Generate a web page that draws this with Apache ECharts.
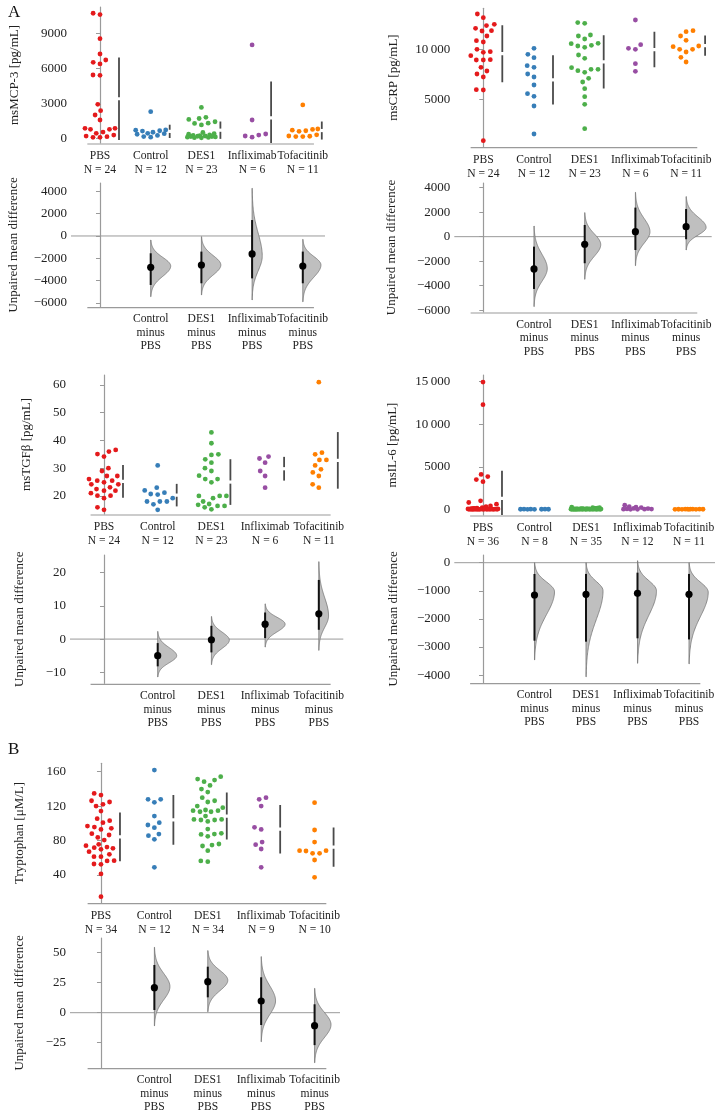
<!DOCTYPE html>
<html><head><meta charset="utf-8">
<script src="https://cdn.jsdelivr.net/npm/echarts@6/dist/echarts.min.js"></script>
<style>html,body{margin:0;padding:0;background:#fff}#c{width:718px;height:1113px}</style>
</head><body><div id="c"></div>
<script>
// ---------------- DATA ----------------
const groups = ['PBS', 'Control', 'DES1', 'Infliximab', 'Tofacitinib'];
const groupColors = ['#e41a1c', '#377eb8', '#4daf4a', '#984ea3', '#ff7f00'];

// msMCP-3 [pg/mL]
const mcp3_PBS = [10714,10600,8540,7226,6711,6514,6370,5400,5426,2914,2366,1997,1569,771,857,771,857,540,429,283,197,140,86,86];
const mcp3_Control = [2280,720,700,650,620,520,430,400,350,250,150,100];
const mcp3_DES1 = [2650,1800,1700,1620,1420,1300,1280,1150,500,400,350,300,250,220,200,180,150,150,120,100,80,60,50];
const mcp3_Infliximab = [7997,1569,370,200,100,283];
const mcp3_Tofacitinib = [2860,800,760,700,650,600,300,200,180,150,150];
const mcp3Ticks = [0, 3000, 6000, 9000];
const mcp3DiffTicks = [-6000, -4000, -2000, 0, 2000, 4000];
const mcp3DiffMean = [-2807, -2600, -1610, -2690];
const mcp3CiLow = [-4390, -4240, -3800, -4240];
const mcp3CiHigh = [-1550, -1400, 1430, -1400];
const mcp3BootTop = [-360, -60, 4280, -300];
const mcp3BootBottom = [-5440, -5290, -5740, -5900];
const mcp3BootMode = [-2700, -2600, -1800, -2600];

// msCRP [pg/mL]
const crp_PBS = [13530,13160,12100,12500,12370,11830,11860,11330,10860,10730,10000,9700,9760,9360,8930,8960,8930,8200,7830,7530,7230,5930,5960,860];
const crp_Control = [10100,9500,9160,8200,8360,7530,7230,6430,5560,5300,4330,1530];
const crp_DES1 = [12670,12600,11430,11030,11330,10400,10560,10200,10330,9430,9100,8160,8000,8000,7860,7100,6730,6060,5260,4500,2060,10600,7700];
const crp_Infliximab = [12930,10100,10460,10000,8560,7800];
const crp_Tofacitinib = [11760,11860,11330,10900,10260,10330,10000,10000,9730,9200,8730];
const crpTicks = [5000, 10000];
const crpDiffTicks = [-6000, -4000, -2000, 0, 2000, 4000];
const crpDiffMean = [-2637, -620, 408, 816];
const crpCiLow = [-4270, -2170, -1090, -210];
const crpCiHigh = [-816, 955, 2370, 2260];
const crpBootTop = [870, 1960, 3620, 3270];
const crpBootBottom = [-5710, -3480, -2370, -1090];
const crpBootMode = [-2600, -650, 400, 750];

// msTGFβ [pg/mL]
const tgf_PBS = [36.6,36.0,35.1,34.2,30.0,29.0,27.2,27.2,26.1,25.5,25.5,24.9,24.2,24.2,23.1,22.5,21.9,21.9,21.0,20.1,20.1,19.2,15.9,15.0];
const tgf_Control = [31.0,21.2,22.0,23.0,20.7,19.2,18.0,18.0,18.0,15.0,20.5,17.0];
const tgf_DES1 = [42.9,39.0,34.8,35.0,33.2,32.0,30.0,29.0,27.3,26.1,26.1,24.9,20.0,20.0,20.0,19.2,17.1,16.4,18.0,16.8,16.4,15.2,15.9];
const tgf_Infliximab = [32.0,34.2,33.5,27.2,29.0,23.0];
const tgf_Tofacitinib = [61.0,35.6,35.0,33.0,33.0,31.0,28.5,29.6,27.2,24.2,23.0];
const tgfTicks = [20, 30, 40, 50, 60];
const tgfDiffTicks = [-10, 0, 10, 20];
const tgfDiffMean = [-5.0, -0.2, 4.5, 7.6];
const tgfCiLow = [-8.2, -4, 0.3, 2.8];
const tgfCiHigh = [-1.2, 4, 8, 17.8];
const tgfBootTop = [2.3, 6.8, 10.6, 23.3];
const tgfBootBottom = [-11.4, -7.7, -2.4, -3.4];
const tgfBootMode = [-5, -0.3, 4.5, 7];

// msIL-6 [pg/mL]
const il6_PBS = [14960,12300,4100,3850,3500,3250,1000,800,600,400,300,200,150,0,0,0,0,0,0,0,0,0,0,0,0,10,10,20,20,30,40,50,60,80,100,120];
const il6_Control = [5,10,0,15,8,3,12,6];
const il6_DES1 = [250,200,180,150,120,100,90,80,70,60,50,50,40,40,30,30,25,20,20,15,15,10,10,10,5,5,5,0,0,0,0,0,0,0,0];
const il6_Infliximab = [480,300,250,200,100,80,50,30,20,10,0,0];
const il6_Tofacitinib = [30,20,15,10,10,5,5,0,0,0,0];
const il6Ticks = [0, 5000, 10000, 15000];
const il6DiffTicks = [-4000, -3000, -2000, -1000, 0];
const il6DiffMean = [-1150, -1125, -1090, -1125];
const il6CiLow = [-2775, -2810, -2690, -2730];
const il6CiHigh = [-400, -400, -355, -400];
const il6BootTop = [0, 0, 70, 0];
const il6BootBottom = [-3460, -4060, -3580, -3600];
const il6BootMode = [-1030, -1000, -1000, -1050];

// Tryptophan [μM/L]
const trp_PBS = [134.8,132.9,126.3,124.8,122.1,120.1,114.3,105.4,103.1,100.8,96.9,95.7,94.2,93.0,88.0,86.5,83.7,80.6,74.1,75.6,72.5,69.8,71.7,71.0,67.1,61.3,64.0,61.3,56.6,56.3,52.4,52.8,41.2,14.8];
const trp_Control = [161.9,127.9,127.9,124.4,108.5,100.8,98.1,95.0,87.6,85.7,81.4,48.9];
const trp_DES1 = [154.2,151.5,150.3,148.4,144.1,139.9,136.4,129.8,124.8,126.3,120.1,118.2,115.5,113.5,113.5,114.7,114.7,108.5,104.6,103.9,103.9,104.6,102.3,93.4,87.2,88.4,87.6,84.9,74.8,76.0,73.7,68.3,56.3,55.5];
const trp_Infliximab = [127.9,129.8,120.1,95.4,93.0,78.3,75.2,70.2,48.9];
const trp_Tofacitinib = [124.0,92.3,78.3,65.2,68.3,67.9,65.2,68.3,57.4,37.3];
const trpTicks = [40, 80, 120, 160];
const trpDiffTicks = [-25, 0, 25, 50];
const trpDiffMean = [20.8, 25.8, 9.75, -10.8];
const trpCiLow = [2.25, 12.8, -10.25, -27];
const trpCiHigh = [39.75, 38.3, 29.5, 7];
const trpBootTop = [54.5, 51.7, 46.7, 20.3];
const trpBootBottom = [-11, 0.8, -24.2, -41.7];
const trpBootMode = [21.7, 27, 10, -10];

const panels = [
  {title: 'msMCP-3 [pg/mL]', values: [mcp3_PBS, mcp3_Control, mcp3_DES1, mcp3_Infliximab, mcp3_Tofacitinib],
   ticks: mcp3Ticks, dTicks: mcp3DiffTicks, dMean: mcp3DiffMean, ciLow: mcp3CiLow, ciHigh: mcp3CiHigh, bTop: mcp3BootTop, bBot: mcp3BootBottom, bMode: mcp3BootMode},
  {title: 'msCRP [pg/mL]', values: [crp_PBS, crp_Control, crp_DES1, crp_Infliximab, crp_Tofacitinib],
   ticks: crpTicks, dTicks: crpDiffTicks, dMean: crpDiffMean, ciLow: crpCiLow, ciHigh: crpCiHigh, bTop: crpBootTop, bBot: crpBootBottom, bMode: crpBootMode},
  {title: 'msTGFβ [pg/mL]', values: [tgf_PBS, tgf_Control, tgf_DES1, tgf_Infliximab, tgf_Tofacitinib],
   ticks: tgfTicks, dTicks: tgfDiffTicks, dMean: tgfDiffMean, ciLow: tgfCiLow, ciHigh: tgfCiHigh, bTop: tgfBootTop, bBot: tgfBootBottom, bMode: tgfBootMode},
  {title: 'msIL-6 [pg/mL]', values: [il6_PBS, il6_Control, il6_DES1, il6_Infliximab, il6_Tofacitinib],
   ticks: il6Ticks, dTicks: il6DiffTicks, dMean: il6DiffMean, ciLow: il6CiLow, ciHigh: il6CiHigh, bTop: il6BootTop, bBot: il6BootBottom, bMode: il6BootMode},
  {title: 'Tryptophan [μM/L]', values: [trp_PBS, trp_Control, trp_DES1, trp_Infliximab, trp_Tofacitinib],
   ticks: trpTicks, dTicks: trpDiffTicks, dMean: trpDiffMean, ciLow: trpCiLow, ciHigh: trpCiHigh, bTop: trpBootTop, bBot: trpBootBottom, bMode: trpBootMode}
];
const diffTitle = 'Unpaired mean difference';
const panelLetters = ['A', 'B'];

// ---------------- LAYOUT / STYLE ----------------
const layout = [
  {x0: 71,    x1: 325,   t: [7, 143],       b: [183, 306.7],  xr: [-0.572, 4.438], yr: [-400, 11250], dyr: [-6340, 4750], ng: [50, 51]},
  {x0: 454.3, x1: 711.7, t: [8.3, 146.7],   b: [183, 312],    xr: [-0.572, 4.505], yr: [260, 14100],  dyr: [-6150, 4380], ng: [54, 56]},
  {x0: 70,    x1: 343.3, t: [375, 514],     b: [555, 683.3],  xr: [-0.633, 4.456], yr: [13.5, 63.6],  dyr: [-13.3, 25.3], ng: [37, 44]},
  {x0: 454.3, x1: 715,   t: [375, 515],     b: [555, 682.7],  xr: [-0.557, 4.505], yr: [-670, 15790], dyr: [-4270, 274],  ng: [55, 54]},
  {x0: 70,    x1: 340,   t: [763.3, 902.7], b: [938, 1067.7], xr: [-0.58, 4.476],  yr: [7.8, 169.8],  dyr: [-45.8, 62.2], ng: [44, 44]}
];
const FONT = "'Liberation Serif', 'DejaVu Serif', serif";
const AXIS_GRAY = '#9a9a9a';
const TEXT = '#222';
const SPINE_X = [-0.25, 4.22];

function fmtTick(v) {
  const a = Math.abs(v);
  let s = String(a);
  if (a >= 10000) s = s.replace(/\B(?=(\d{3})+(?!\d))/g, '\u2009');
  return (v < 0 ? '\u2212' : '') + s;
}
function mean(a) { return a.reduce((s, v) => s + v, 0) / a.length; }
function sd(a) { const m = mean(a); return Math.sqrt(a.reduce((s, v) => s + (v - m) * (v - m), 0) / (a.length - 1)); }

const chart = echarts.init(document.getElementById('c'), null, {renderer: 'canvas', width: 718, height: 1113});

const grids = [], xAxes = [], yAxes = [];
layout.forEach((L, p) => {
  const P = panels[p];
  [0, 1].forEach(k => {
    const tb = k === 0 ? L.t : L.b;
    grids.push({left: L.x0, top: tb[0], width: L.x1 - L.x0, height: tb[1] - tb[0], outerBoundsMode: 'none', containLabel: false});
    const gi = grids.length - 1;
    xAxes.push({
      gridIndex: gi, type: 'value', min: L.xr[0], max: L.xr[1],
      axisLine: {show: false}, axisTick: {show: false}, splitLine: {show: false},
      axisLabel: {
        show: true, customValues: k === 0 ? [0, 1, 2, 3, 4] : [1, 2, 3, 4], margin: 6,
        hideOverlap: false, showMinLabel: true, showMaxLabel: true,
        fontFamily: FONT, fontSize: 11.6, color: TEXT, lineHeight: k === 0 ? 14 : 13.5, align: 'center',
        formatter: k === 0
          ? (v) => groups[Math.round(v)] + '\nN = ' + P.values[Math.round(v)].length
          : (v) => groups[Math.round(v)] + '\nminus\n' + groups[0]
      }
    });
    yAxes.push({
      gridIndex: gi, type: 'value', min: k === 0 ? L.yr[0] : L.dyr[0], max: k === 0 ? L.yr[1] : L.dyr[1],
      name: k === 0 ? P.title : diffTitle, nameLocation: 'middle', nameGap: L.ng[k], nameRotate: 90,
      nameTextStyle: {fontFamily: FONT, fontSize: 13, color: TEXT},
      axisLine: {show: true, lineStyle: {color: AXIS_GRAY, width: 1.2}},
      axisTick: {show: true, length: 4, customValues: k === 0 ? P.ticks : P.dTicks, lineStyle: {color: AXIS_GRAY, width: 1}},
      axisLabel: {show: true, customValues: k === 0 ? P.ticks : P.dTicks, margin: 4, hideOverlap: false, showMinLabel: true, showMaxLabel: true,
        fontFamily: FONT, fontSize: 13, color: TEXT, formatter: fmtTick},
      splitLine: {show: false}
    });
  });
});

const graphic = [
  {type: 'text', left: 8, top: 4, style: {text: panelLetters[0], font: '17px ' + FONT, fill: '#111'}},
  {type: 'text', left: 8, top: 741, style: {text: panelLetters[1], font: '17px ' + FONT, fill: '#111'}}
];

chart.setOption({animation: false, backgroundColor: '#fff', grid: grids, xAxis: xAxes, yAxis: yAxes, graphic: graphic, series: []});

// ---------------- SERIES ----------------
function swarm(ys, d, maxHalf) {
  const idx = ys.map((y, i) => i).sort((a, b) => ys[b] - ys[a]);
  const placed = [], out = new Array(ys.length);
  for (const i of idx) {
    const y = ys[i];
    const nb = placed.filter(p => Math.abs(p.y - y) < d);
    const cand = [0];
    nb.forEach(p => { const dx = Math.sqrt(d * d - (p.y - y) * (p.y - y)); cand.push(p.x + dx, p.x - dx); });
    cand.sort((a, b) => Math.abs(a) - Math.abs(b) || a - b);
    let x = null;
    for (const c of cand) {
      if (nb.every(p => (p.x - c) * (p.x - c) + (p.y - y) * (p.y - y) >= d * d - 1e-6)) { x = c; break; }
    }
    if (x === null || Math.abs(x) > maxHalf) {
      let best = 0, bestD = -1;
      for (let s = 0; s <= 40; s++) {
        const c = -maxHalf + 2 * maxHalf * s / 40;
        let md = Infinity;
        nb.forEach(p => { md = Math.min(md, Math.hypot(p.x - c, p.y - y)); });
        if (md > bestD + 1e-9) { bestD = md; best = c; }
      }
      x = best;
    }
    placed.push({x: x, y: y});
    out[i] = x;
  }
  return out;
}

const series = [];
layout.forEach((L, p) => {
  const P = panels[p];
  const gTop = 2 * p, gBot = 2 * p + 1;
  const ref = {xAxisIndex: gTop, yAxisIndex: gTop};
  const pxPerUnit = chart.convertToPixel(ref, [1, 0])[0] - chart.convertToPixel(ref, [0, 0])[0];
  // swarm points
  P.values.forEach((vals, g) => {
    const ys = vals.map(v => chart.convertToPixel(ref, [g, v])[1]);
    const offs = swarm(ys, 7, 15);
    series.push({
      type: 'scatter', xAxisIndex: gTop, yAxisIndex: gTop, silent: true, symbol: 'circle', symbolSize: 4.8,
      itemStyle: {color: groupColors[g], opacity: 1}, z: 3,
      data: vals.map((v, i) => [g + offs[i] / pxPerUnit, v])
    });
  });
  // mean ± sd gapped lines
  series.push({
    type: 'custom', xAxisIndex: gTop, yAxisIndex: gTop, silent: true, clip: true, z: 2,
    data: P.values.map((vals, g) => [g, mean(vals), sd(vals)]),
    renderItem: (params, api) => {
      const g = api.value(0), m = api.value(1), s = api.value(2);
      const hi = api.coord([g, m + s]), mid = api.coord([g, m]), lo = api.coord([g, m - s]);
      const x = mid[0] + 19, gap = 1.6;
      const st = {stroke: '#4a4a4a', lineWidth: 1.8};
      return {type: 'group', children: [
        {type: 'line', shape: {x1: x, y1: hi[1], x2: x, y2: Math.max(hi[1], mid[1] - gap)}, style: st},
        {type: 'line', shape: {x1: x, y1: Math.min(lo[1], mid[1] + gap), x2: x, y2: lo[1]}, style: st}
      ]};
    }
  });
  // spines & zero line
  [gTop, gBot].forEach((gi, k) => {
    const ymin = k === 0 ? L.yr[0] : L.dyr[0];
    series.push({
      type: 'custom', xAxisIndex: gi, yAxisIndex: gi, silent: true, clip: false, z: 1,
      data: [[0, 0]],
      renderItem: (params, api) => {
        const a = api.coord([SPINE_X[0], ymin]), b = api.coord([SPINE_X[1], ymin]);
        const ch = [{type: 'line', shape: {x1: a[0], y1: a[1] + 1, x2: b[0], y2: b[1] + 1}, style: {stroke: AXIS_GRAY, lineWidth: 1.2}}];
        if (k === 1) {
          const z0 = api.coord([L.xr[0], 0]), z1 = api.coord([L.xr[1], 0]);
          ch.push({type: 'line', shape: {x1: z0[0], y1: z0[1], x2: z1[0], y2: z1[1]}, style: {stroke: AXIS_GRAY, lineWidth: 1}});
        }
        return {type: 'group', children: ch};
      }
    });
  });
  // effect sizes with bootstrap half-violins
  const spreads = P.bTop.map((t, i) => t - P.bBot[i]);
  const minSpread = Math.min.apply(null, spreads);
  series.push({
    type: 'custom', xAxisIndex: gBot, yAxisIndex: gBot, silent: true, clip: false, z: 4,
    data: P.dMean.map((m, i) => [i + 1, m, P.ciLow[i], P.ciHigh[i], P.bTop[i], P.bBot[i], P.bMode[i], minSpread / spreads[i]]),
    renderItem: (params, api) => {
      const c = api.value(0), m = api.value(1), lo = api.value(2), hi = api.value(3);
      const top = api.value(4), bot = api.value(5), mode = api.value(6), ratio = api.value(7);
      const W = 20 * ratio;
      const su = (top - mode) / 3, sdn = (mode - bot) / 3;
      const pts = [];
      const base0 = api.coord([c, bot]);
      pts.push([base0[0], base0[1]]);
      const N = 90;
      for (let j = 0; j <= N; j++) {
        const y = bot + (top - bot) * j / N;
        const s = y > mode ? su : sdn;
        const f = Math.exp(-0.5 * Math.pow((y - mode) / s, 2));
        const q = api.coord([c, y]);
        pts.push([q[0] + W * f, q[1]]);
      }
      const base1 = api.coord([c, top]);
      pts.push([base1[0], base1[1]]);
      const pm = api.coord([c, m]), pl = api.coord([c, lo]), ph = api.coord([c, hi]);
      return {type: 'group', children: [
        {type: 'polygon', shape: {points: pts}, style: {fill: '#bfbfbf', stroke: '#777', lineWidth: 0.8}},
        {type: 'line', shape: {x1: pl[0], y1: pl[1], x2: ph[0], y2: ph[1]}, style: {stroke: '#111', lineWidth: 2}},
        {type: 'circle', shape: {cx: pm[0], cy: pm[1], r: 3.6}, style: {fill: '#000'}}
      ]};
    }
  });
});

chart.setOption({series: series});
</script>
</body></html>
